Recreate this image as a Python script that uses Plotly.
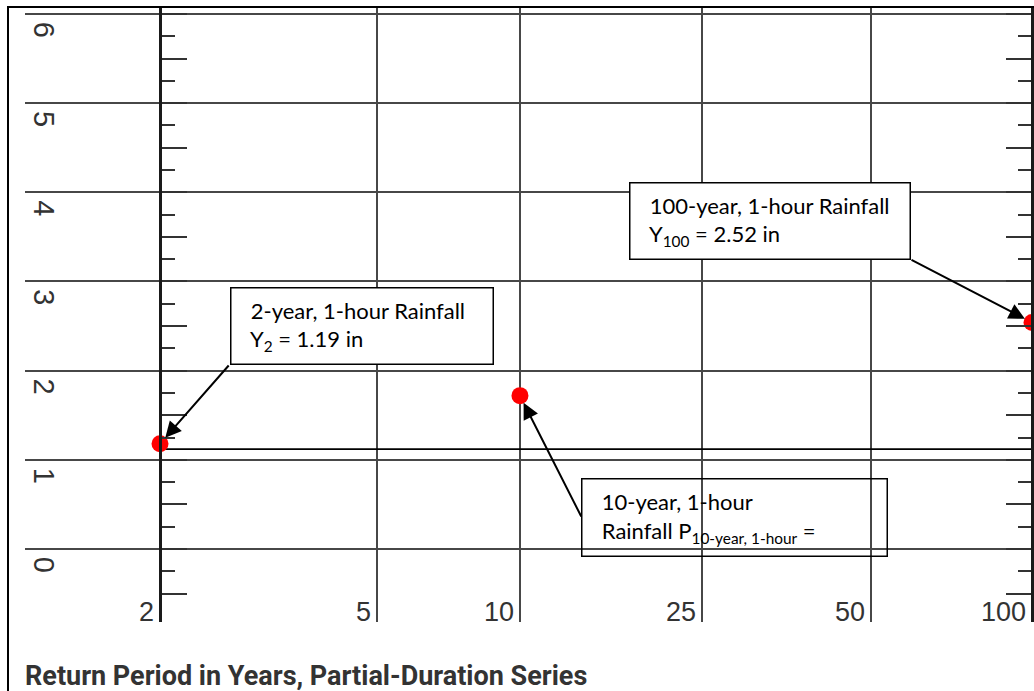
import numpy as np
import plotly.graph_objects as go

# ---------------- data ----------------
return_periods = [2, 5, 10, 25, 50, 100]
tick_labels = ["2", "5", "10", "25", "50", "100"]
depth_ticks = [0, 1, 2, 3, 4, 5, 6]
depth_labels = ["0", "1", "2", "3", "4", "5", "6"]

point_periods = [2, 10, 100]
point_depths = [1.18, 1.72, 2.54]

ref_line_periods = [2, 100]
ref_line_depths = [1.12, 1.12]

# ---------------- axis scale (printed probability paper) ----------------
# relative position of each printed return period along the paper's x scale
PAPER_SCALE = {2: 0.0, 5: 0.2489, 10: 0.4128, 25: 0.6216, 50: 0.8154, 100: 1.0}


def xpos(T):
    keys = sorted(PAPER_SCALE)
    return float(np.interp(np.log(T), np.log(keys), [PAPER_SCALE[k] for k in keys]))


# ---------------- layout geometry ----------------
W, H = 1034, 691
ML, MR, MT, MB = 25, 0, 7, 69
PW, PH = W - ML - MR, H - MT - MB
X0_PX, X_SCALE = 160, 872.0      # pixel of T=2 and px per scale unit
Y0_PX, Y_SCALE = 549, 89.17      # pixel of 0 in and px per inch

x_range = [(ML - X0_PX) / X_SCALE, (ML + PW - X0_PX) / X_SCALE]
y_range = [(Y0_PX - (MT + PH)) / Y_SCALE, (Y0_PX - MT) / Y_SCALE]


def u(px):
    return (px - X0_PX) / X_SCALE


def v(py):
    return (Y0_PX - py) / Y_SCALE


def paper_x(px):
    return (px - ML) / PW


def paper_y(py):
    return (MT + PH - py) / PH


GRID = "#474747"
TICKFONT = dict(family="Liberation Sans, Arial, sans-serif", color="#333333")

fig = go.Figure()

fig.add_trace(go.Scatter(
    x=[xpos(t) for t in ref_line_periods], y=ref_line_depths,
    mode="lines", line=dict(color="black", width=1.6),
    yaxis="y2", hoverinfo="skip", showlegend=False,
))
fig.add_trace(go.Scatter(
    x=[xpos(t) for t in point_periods], y=point_depths,
    mode="markers", marker=dict(color="#ff0000", size=17, line=dict(width=0)),
    yaxis="y3", showlegend=False, cliponaxis=False,
))

side_axis = dict(
    matches="y", overlaying="y", anchor="free", showline=True,
    linecolor="#1a1a1a", linewidth=2.5,
    showgrid=False, zeroline=False, showticklabels=False,
    tickmode="linear", tick0=0, dtick=0.5, ticks="outside", ticklen=25,
    tickwidth=2, tickcolor="#333333",
    minor=dict(dtick=0.25, tick0=0, ticks="outside", ticklen=13, tickwidth=2,
               tickcolor="#333333", showgrid=False),
)

fig.update_layout(
    width=W, height=H,
    margin=dict(l=ML, r=MR, t=MT, b=MB, pad=0),
    paper_bgcolor="white", plot_bgcolor="white",
    showlegend=False,
    xaxis=dict(
        range=x_range, tickvals=[xpos(t) for t in return_periods], ticktext=tick_labels,
        showgrid=True, gridcolor=GRID, gridwidth=2, zeroline=False, showline=False,
        ticks="", ticklabelposition="inside left", ticklabelshift=-6,
        ticklabelstandoff=-10,
        tickfont=dict(size=27, **TICKFONT), fixedrange=True,
    ),
    yaxis=dict(
        range=y_range, tickvals=depth_ticks, ticktext=depth_labels,
        showgrid=True, gridcolor=GRID, gridwidth=2, zeroline=False, showline=False,
        ticks="", ticklabelposition="inside bottom", tickangle=90,
        tickfont=dict(size=29, **TICKFONT), fixedrange=True,
    ),
    yaxis2=dict(side="right", position=paper_x(X0_PX), **side_axis),
    yaxis3=dict(side="left", position=paper_x(X0_PX + X_SCALE * xpos(100)), **side_axis),
    title=dict(
        text="<b>Return Period in Years, Partial-Duration Series</b>",
        font=dict(family="Liberation Sans Narrow, Roboto, Arial, sans-serif",
                  size=27, color="#333333"),
        xref="container", x=ML / W, xanchor="left",
        yref="container", y=1 - 676 / H, yanchor="middle",
    ),
)

# frame around the figure
fig.add_shape(type="rect", xref="paper", yref="paper",
              x0=paper_x(8), x1=paper_x(1060), y0=paper_y(720), y1=paper_y(7),
              line=dict(color="black", width=2), fillcolor="rgba(0,0,0,0)", layer="above")

ANN_FONT = dict(family="Lato, Noto Sans, sans-serif", size=22, color="black")
LEAD = "\u00a0\u00a0"

boxes = [
    # (left px, top px, width px, height px, text, filled)
    (230, 287, 263, 77, LEAD + "2-year, 1-hour Rainfall<br>" + LEAD + "Y<sub>2</sub> = 1.19 in", True),
    (629, 182, 281, 77, LEAD + "100-year, 1-hour Rainfall<br>" + LEAD + "Y<sub>100</sub> = 2.52 in", True),
    (581, 478, 306, 78, LEAD + "10-year, 1-hour<br>" + LEAD + "Rainfall P<sub>10-year, 1-hour</sub> =", False),
]
PAD = 8
for left, top, w, h, txt, filled in boxes:
    fig.add_annotation(
        x=u(left), y=v(top), xref="x", yref="y", xanchor="left", yanchor="top",
        text=txt, showarrow=False, align="left", valign="middle",
        width=w - 2 * PAD - 2, height=h - 2 * PAD - 2, borderpad=PAD,
        bordercolor="black", borderwidth=1.5,
        bgcolor="white" if filled else "rgba(0,0,0,0)", font=ANN_FONT,
    )

# arrows from the boxes to the points (tails at the box corners)
arrow_tails = {2: (230, 364), 10: (582, 518), 100: (910, 259)}
for T, d in zip(point_periods, point_depths):
    tx, ty = arrow_tails[T]
    fig.add_annotation(
        x=xpos(T), y=d, xref="x", yref="y", ax=u(tx), ay=v(ty), axref="x", ayref="y",
        text="", showarrow=True, arrowhead=2, arrowsize=1.6, arrowwidth=2,
        arrowcolor="black", standoff=8,
    )

fig.write_html("out.html", config={"displayModeBar": False},
               post_script="document.body.style.margin='0';")
